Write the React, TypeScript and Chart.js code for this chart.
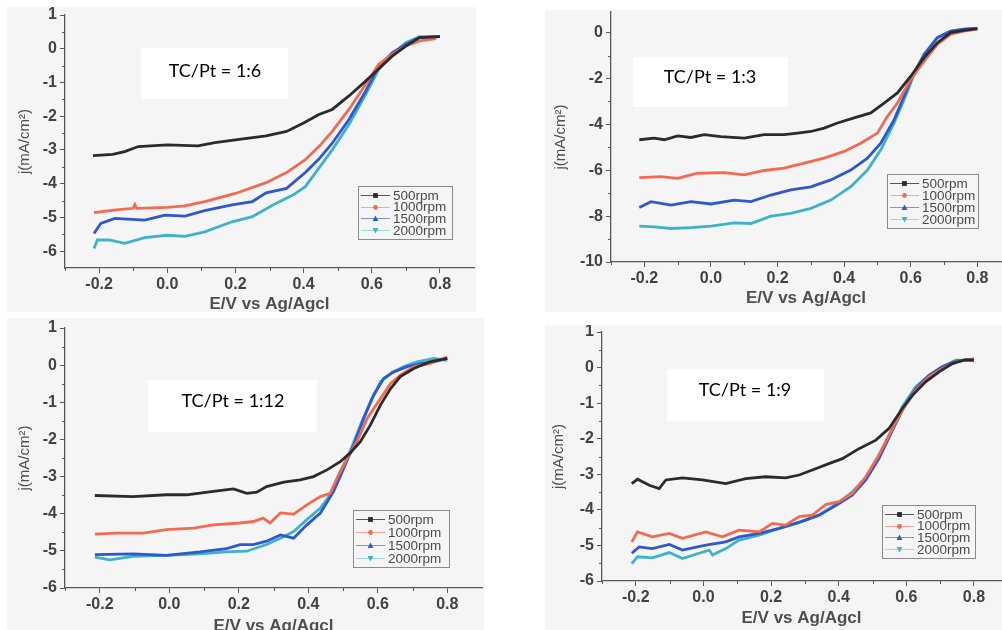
import React, { useEffect, useRef } from "react";
import { Chart, registerables } from "chart.js";

Chart.register(...registerables);

// ---------- data ----------
const rpmLabels = ["500rpm", "1000rpm", "1500rpm", "2000rpm"];
const seriesColors = ["#2b2b2b", "#f4694f", "#2f58cf", "#3db3c9"];
const xAxisTitle = "E/V vs Ag/Agcl";
const yAxisTitle = "j(mA/cm²)";
const panelNotes = ["TC/Pt = 1:6", "TC/Pt = 1:3", "TC/Pt = 1:12", "TC/Pt = 1:9"];

const xTicksMajor = [-0.2, 0, 0.2, 0.4, 0.6, 0.8];
const xTicksMinor = [-0.3, -0.1, 0.1, 0.3, 0.5, 0.7];
const yTicksA = [1, 0, -1, -2, -3, -4, -5, -6];
const yTicksAMinor = [0.5, -0.5, -1.5, -2.5, -3.5, -4.5, -5.5];
const yTicksB = [0, -2, -4, -6, -8, -10];
const yTicksBMinor = [-1, -3, -5, -7, -9];

// Panel 1: TC/Pt = 1:6
const p1x500 = [-0.218, -0.16, -0.125, -0.085, 0, 0.09, 0.14, 0.2, 0.29, 0.35, 0.4, 0.445, 0.484, 0.533, 0.582, 0.62, 0.66, 0.7, 0.74, 0.8];
const p1y500 = [-3.17, -3.13, -3.05, -2.9, -2.85, -2.88, -2.78, -2.7, -2.58, -2.45, -2.2, -1.95, -1.8, -1.4, -0.96, -0.6, -0.22, 0.08, 0.33, 0.36];
const p1x1000 = [-0.215, -0.15, -0.1, -0.095, -0.09, 0, 0.052, 0.11, 0.2, 0.29, 0.35, 0.405, 0.445, 0.484, 0.533, 0.582, 0.62, 0.66, 0.7, 0.74, 0.788];
const p1y1000 = [-4.86, -4.78, -4.73, -4.62, -4.73, -4.7, -4.66, -4.53, -4.29, -3.97, -3.67, -3.29, -2.9, -2.45, -1.8, -1.06, -0.47, -0.17, 0.08, 0.23, 0.3];
const p1x1500 = [-0.215, -0.195, -0.154, -0.066, -0.007, 0.052, 0.11, 0.19, 0.25, 0.29, 0.35, 0.405, 0.445, 0.484, 0.533, 0.582, 0.62, 0.66, 0.7, 0.74, 0.8];
const p1y1500 = [-5.48, -5.18, -5.03, -5.08, -4.93, -4.96, -4.8, -4.63, -4.53, -4.27, -4.14, -3.67, -3.27, -2.8, -2.1, -1.26, -0.52, -0.12, 0.13, 0.33, 0.36];
const p1x2000 = [-0.215, -0.205, -0.17, -0.125, -0.066, 0, 0.052, 0.11, 0.19, 0.25, 0.31, 0.37, 0.405, 0.445, 0.484, 0.533, 0.582, 0.62, 0.66, 0.7, 0.74, 0.8];
const p1y2000 = [-5.92, -5.67, -5.67, -5.77, -5.6, -5.53, -5.56, -5.43, -5.13, -4.98, -4.63, -4.33, -4.09, -3.54, -3.0, -2.25, -1.36, -0.62, -0.17, 0.18, 0.36, 0.36];

// Panel 2: TC/Pt = 1:3
const p2x500 = [-0.215, -0.17, -0.14, -0.1, -0.06, -0.02, 0.03, 0.1, 0.16, 0.22, 0.26, 0.3, 0.34, 0.38, 0.43, 0.48, 0.52, 0.56, 0.6, 0.64, 0.68, 0.72, 0.76, 0.8];
const p2y500 = [-4.67, -4.6, -4.67, -4.5, -4.57, -4.45, -4.53, -4.6, -4.45, -4.45, -4.38, -4.31, -4.16, -3.94, -3.72, -3.5, -3.07, -2.63, -1.9, -1.09, -0.44, 0, 0.1, 0.18];
const p2x1000 = [-0.215, -0.15, -0.1, -0.04, 0.04, 0.1, 0.16, 0.22, 0.28, 0.34, 0.4, 0.45, 0.5, 0.53, 0.56, 0.6, 0.64, 0.68, 0.72, 0.76, 0.8];
const p2y1000 = [-6.32, -6.28, -6.35, -6.13, -6.1, -6.2, -6.01, -5.91, -5.69, -5.47, -5.18, -4.82, -4.38, -3.65, -3.07, -2.04, -1.24, -0.51, -0.07, 0.07, 0.15];
const p2x1500 = [-0.215, -0.18, -0.12, -0.06, 0, 0.07, 0.12, 0.18, 0.24, 0.3, 0.36, 0.42, 0.47, 0.51, 0.55, 0.58, 0.61, 0.64, 0.68, 0.72, 0.76, 0.8];
const p2y1500 = [-7.62, -7.37, -7.52, -7.37, -7.47, -7.3, -7.37, -7.08, -6.86, -6.72, -6.42, -5.99, -5.47, -4.82, -3.8, -2.77, -1.75, -0.95, -0.22, 0.07, 0.15, 0.18];
const p2x2000 = [-0.215, -0.17, -0.12, -0.06, 0, 0.07, 0.12, 0.18, 0.24, 0.3, 0.36, 0.42, 0.47, 0.51, 0.55, 0.58, 0.61, 0.64, 0.68, 0.72, 0.76, 0.8];
const p2y2000 = [-8.44, -8.47, -8.54, -8.5, -8.44, -8.29, -8.32, -8.0, -7.88, -7.66, -7.3, -6.72, -5.99, -5.11, -3.94, -2.92, -1.82, -0.95, -0.22, 0.07, 0.15, 0.18];

// Panel 3: TC/Pt = 1:12
const p3x500 = [-0.214, -0.104, -0.008, 0.05, 0.127, 0.185, 0.223, 0.252, 0.28, 0.33, 0.377, 0.415, 0.454, 0.492, 0.52, 0.55, 0.579, 0.608, 0.637, 0.665, 0.704, 0.75, 0.8];
const p3y500 = [-3.51, -3.54, -3.49, -3.49, -3.4, -3.33, -3.45, -3.42, -3.27, -3.15, -3.09, -3.0, -2.82, -2.6, -2.37, -2.06, -1.61, -1.07, -0.63, -0.31, -0.09, 0.09, 0.18];
const p3x1000 = [-0.214, -0.152, -0.075, -0.008, 0.07, 0.127, 0.204, 0.242, 0.27, 0.29, 0.32, 0.358, 0.396, 0.435, 0.463, 0.483, 0.51, 0.54, 0.57, 0.608, 0.637, 0.665, 0.704, 0.75, 0.8];
const p3y1000 = [-4.55, -4.52, -4.52, -4.43, -4.39, -4.3, -4.25, -4.21, -4.12, -4.25, -3.98, -4.01, -3.76, -3.54, -3.45, -3.04, -2.55, -2.06, -1.43, -0.9, -0.49, -0.27, -0.04, 0.04, 0.22];
const p3x1500 = [-0.214, -0.104, -0.008, 0.088, 0.165, 0.204, 0.242, 0.28, 0.32, 0.358, 0.396, 0.435, 0.473, 0.502, 0.531, 0.56, 0.588, 0.617, 0.646, 0.685, 0.723, 0.762, 0.8];
const p3y1500 = [-5.1, -5.08, -5.12, -5.03, -4.94, -4.83, -4.83, -4.74, -4.57, -4.66, -4.3, -3.98, -3.4, -2.78, -2.15, -1.43, -0.81, -0.36, -0.18, -0.04, 0.04, 0.09, 0.18];
const p3x2000 = [-0.214, -0.171, -0.104, -0.008, 0.088, 0.165, 0.223, 0.28, 0.32, 0.358, 0.396, 0.435, 0.463, 0.492, 0.52, 0.55, 0.579, 0.608, 0.637, 0.675, 0.713, 0.762, 0.8];
const p3y2000 = [-5.17, -5.24, -5.15, -5.12, -5.08, -5.03, -5.01, -4.83, -4.66, -4.48, -4.16, -3.85, -3.49, -2.87, -2.33, -1.61, -0.98, -0.45, -0.22, -0.04, 0.09, 0.18, 0.13];

// Panel 4: TC/Pt = 1:9
const p4x500 = [-0.212, -0.195, -0.16, -0.131, -0.111, -0.062, -0.003, 0.066, 0.125, 0.184, 0.243, 0.283, 0.322, 0.371, 0.411, 0.46, 0.51, 0.549, 0.588, 0.618, 0.657, 0.697, 0.736, 0.775, 0.8];
const p4y500 = [-3.26, -3.14, -3.31, -3.4, -3.16, -3.1, -3.16, -3.26, -3.12, -3.07, -3.1, -3.02, -2.88, -2.7, -2.56, -2.28, -2.04, -1.71, -1.15, -0.78, -0.4, -0.12, 0.11, 0.22, 0.21];
const p4x1000 = [-0.212, -0.195, -0.151, -0.101, -0.062, 0.007, 0.056, 0.105, 0.165, 0.204, 0.243, 0.283, 0.322, 0.362, 0.401, 0.44, 0.48, 0.519, 0.559, 0.588, 0.628, 0.667, 0.706, 0.746, 0.8];
const p4y1000 = [-4.9, -4.62, -4.76, -4.66, -4.8, -4.62, -4.76, -4.57, -4.62, -4.38, -4.43, -4.19, -4.15, -3.85, -3.77, -3.54, -3.07, -2.46, -1.71, -1.2, -0.64, -0.26, -0.03, 0.16, 0.25];
const p4x1500 = [-0.212, -0.19, -0.151, -0.101, -0.062, 0.007, 0.066, 0.105, 0.165, 0.224, 0.283, 0.342, 0.401, 0.44, 0.48, 0.519, 0.559, 0.588, 0.628, 0.667, 0.706, 0.746, 0.8];
const p4y1500 = [-5.22, -5.04, -5.09, -4.97, -5.13, -4.99, -4.9, -4.76, -4.66, -4.52, -4.35, -4.15, -3.82, -3.59, -3.16, -2.56, -1.76, -1.2, -0.59, -0.22, 0.02, 0.18, 0.22];
const p4x2000 = [-0.212, -0.195, -0.151, -0.101, -0.062, -0.013, 0.017, 0.027, 0.066, 0.105, 0.165, 0.224, 0.283, 0.342, 0.401, 0.44, 0.48, 0.519, 0.559, 0.588, 0.628, 0.667, 0.706, 0.746, 0.8];
const p4y2000 = [-5.51, -5.32, -5.35, -5.2, -5.37, -5.22, -5.13, -5.27, -5.09, -4.85, -4.71, -4.52, -4.35, -4.15, -3.79, -3.49, -3.12, -2.46, -1.71, -1.1, -0.54, -0.22, 0.02, 0.21, 0.21];

// ---------- layout / style ----------
type Box = [number, number, number, number];
type PanelCfg = {
  left: number; top: number; width: number; height: number;
  plotLeft: number; plotRight: number; plotTop: number; plotBottom: number;
  xMin: number; xMax: number; yMin: number; yMax: number;
  yMajor: number[]; yMinor: number[];
  yTitleX: number; xTitleY: number;
  note: string; noteBox: Box; noteCenter: [number, number];
  legendBox: Box;
  xs: number[][]; ys: number[][];
};

const BG = "#f5f5f6";
const AXIS = "#5a5a5a";
const LABEL = "#424242";
const SANS = "'Liberation Sans', Arial, sans-serif";

const panels: PanelCfg[] = [
  {
    left: 7, top: 7, width: 469, height: 305,
    plotLeft: 65, plotRight: 474, plotTop: 15, plotBottom: 268,
    xMin: -0.3, xMax: 0.9, yMin: -6.5, yMax: 1,
    yMajor: yTicksA, yMinor: yTicksAMinor,
    yTitleX: 25, xTitleY: 304,
    note: panelNotes[0], noteBox: [141, 48, 147, 51], noteCenter: [215, 71],
    legendBox: [358, 186, 94, 53],
    xs: [p1x500, p1x1000, p1x1500, p1x2000], ys: [p1y500, p1y1000, p1y1500, p1y2000],
  },
  {
    left: 545, top: 10, width: 457, height: 302,
    plotLeft: 611, plotRight: 1001, plotTop: 12, plotBottom: 262,
    xMin: -0.3, xMax: 0.871, yMin: -10, yMax: 0.9,
    yMajor: yTicksB, yMinor: yTicksBMinor,
    yTitleX: 561, xTitleY: 298,
    note: panelNotes[1], noteBox: [633, 57, 155, 50], noteCenter: [710, 77],
    legendBox: [887, 174, 91, 54],
    xs: [p2x500, p2x1000, p2x1500, p2x2000], ys: [p2y500, p2y1000, p2y1500, p2y2000],
  },
  {
    left: 7, top: 318, width: 477, height: 322,
    plotLeft: 65, plotRight: 482, plotTop: 328, plotBottom: 588,
    xMin: -0.3, xMax: 0.9, yMin: -6, yMax: 1,
    yMajor: yTicksA, yMinor: yTicksAMinor,
    yTitleX: 25, xTitleY: 626,
    note: panelNotes[2], noteBox: [148, 380, 169, 52], noteCenter: [233, 401],
    legendBox: [353, 510, 96, 57],
    xs: [p3x500, p3x1000, p3x1500, p3x2000], ys: [p3y500, p3y1000, p3y1500, p3y2000],
  },
  {
    left: 545, top: 325, width: 457, height: 305,
    plotLeft: 602, plotRight: 1001, plotTop: 332, plotBottom: 581,
    xMin: -0.3, xMax: 0.88, yMin: -6, yMax: 1,
    yMajor: yTicksA, yMinor: yTicksAMinor,
    yTitleX: 559, xTitleY: 618,
    note: panelNotes[3], noteBox: [667, 369, 157, 52], noteCenter: [745, 390],
    legendBox: [882, 505, 93, 53],
    xs: [p4x500, p4x1000, p4x1500, p4x2000], ys: [p4y500, p4y1000, p4y1500, p4y2000],
  },
];

function drawMarker(ctx: CanvasRenderingContext2D, kind: number, x: number, y: number, color: string) {
  ctx.save();
  ctx.fillStyle = color;
  ctx.beginPath();
  const s = 2.4;
  if (kind === 0) {
    ctx.rect(x - s, y - s, 2 * s, 2 * s);
  } else if (kind === 1) {
    ctx.arc(x, y, s, 0, Math.PI * 2);
  } else if (kind === 2) {
    ctx.moveTo(x, y - s - 0.5);
    ctx.lineTo(x + s + 0.5, y + s);
    ctx.lineTo(x - s - 0.5, y + s);
    ctx.closePath();
  } else {
    ctx.moveTo(x, y + s + 0.5);
    ctx.lineTo(x + s + 0.5, y - s);
    ctx.lineTo(x - s - 0.5, y - s);
    ctx.closePath();
  }
  ctx.fill();
  ctx.restore();
}

const legendLineColors = ["#555555", "#f7a898", "#7a95e0", "#9fd8e4"];

function Panel({ cfg }: { cfg: PanelCfg }) {
  const ref = useRef<HTMLCanvasElement | null>(null);
  useEffect(() => {
    const canvas = ref.current;
    if (!canvas) return;
    const xTitleSize = 17;
    const yTitleSize = 15;
    const xTitlePadBottom = cfg.height - (cfg.xTitleY - cfg.top) - xTitleSize / 2;
    const yTitlePadTop = cfg.yTitleX - cfg.left - yTitleSize / 2;

    const bgPlugin = {
      id: "panelBg",
      beforeDraw(chart: any) {
        const c = chart.ctx;
        c.save();
        c.fillStyle = BG;
        c.fillRect(0, 0, chart.width, chart.height);
        c.restore();
      },
    };

    const overlayPlugin = {
      id: "panelOverlay",
      afterDraw(chart: any) {
        const c: CanvasRenderingContext2D = chart.ctx;
        const area = chart.chartArea;
        const xs = chart.scales.x;
        const ys = chart.scales.y;
        c.save();
        // minor ticks
        c.strokeStyle = AXIS;
        c.lineWidth = 1;
        c.beginPath();
        for (const v of cfg.yMinor) {
          const py = Math.round(ys.getPixelForValue(v)) + 0.5;
          c.moveTo(area.left - 3, py);
          c.lineTo(area.left, py);
        }
        for (const v of xTicksMinor) {
          const px = Math.round(xs.getPixelForValue(v)) + 0.5;
          c.moveTo(px, area.bottom);
          c.lineTo(px, area.bottom + 3);
        }
        c.stroke();

        // note box
        const [nx, ny, nw, nh] = cfg.noteBox;
        c.fillStyle = "#ffffff";
        c.fillRect(nx - cfg.left, ny - cfg.top, nw, nh);
        c.fillStyle = "#000000";
        c.font = "18px Lato, 'Open Sans', sans-serif";
        c.textAlign = "center";
        c.textBaseline = "middle";
        c.fillText(cfg.note, cfg.noteCenter[0] - cfg.left, cfg.noteCenter[1] - cfg.top);

        // legend
        const [lx0, ly0, lw, lh] = cfg.legendBox;
        const lx = lx0 - cfg.left;
        const ly = ly0 - cfg.top;
        c.strokeStyle = "#8a8a8a";
        c.lineWidth = 1;
        c.strokeRect(Math.round(lx) + 0.5, Math.round(ly) + 0.5, lw, lh);
        const rowStep = (lh - 18) / 3;
        c.font = "13.5px " + SANS;
        c.textAlign = "left";
        c.textBaseline = "middle";
        chart.data.datasets.forEach((ds: any, i: number) => {
          const ry = ly + 9 + i * rowStep;
          c.strokeStyle = legendLineColors[i];
          c.beginPath();
          c.moveTo(lx + 3, Math.round(ry) + 0.5);
          c.lineTo(lx + 32, Math.round(ry) + 0.5);
          c.stroke();
          drawMarker(c, i, lx + 17.5, Math.round(ry) + 0.5, ds.borderColor);
          c.fillStyle = "#4a4a4a";
          c.fillText(ds.label, lx + 35, ry + 1);
        });
        c.restore();
      },
    };

    const chart = new Chart(canvas, {
      type: "line",
      data: {
        datasets: rpmLabels.map((label, i) => ({
          label,
          data: cfg.xs[i].map((x, k) => ({ x, y: cfg.ys[i][k] })),
          borderColor: seriesColors[i],
          backgroundColor: seriesColors[i],
          borderWidth: 2.8,
          pointRadius: 0,
          tension: 0,
          fill: false,
        })),
      },
      options: {
        responsive: false,
        animation: false,
        events: [],
        layout: {
          padding: {
            left: 0,
            top: cfg.plotTop - cfg.top,
            right: cfg.left + cfg.width - cfg.plotRight,
            bottom: 0,
          },
        },
        plugins: {
          legend: { display: false },
          tooltip: { enabled: false },
        },
        scales: {
          x: {
            type: "linear",
            position: "bottom",
            min: cfg.xMin,
            max: cfg.xMax,
            afterBuildTicks: (s: any) => {
              s.ticks = xTicksMajor.map((v) => ({ value: v }));
            },
            afterFit: (s: any) => {
              s.height = cfg.top + cfg.height - cfg.plotBottom;
              s.paddingLeft = 0; s.paddingRight = 0; s.paddingTop = 0; s.paddingBottom = 0;
            },
            grid: { drawOnChartArea: false, drawTicks: true, tickLength: 5, color: AXIS, lineWidth: 1 },
            border: { display: true, color: AXIS, width: 1.3 },
            ticks: {
              autoSkip: false,
              maxRotation: 0,
              padding: 2,
              color: LABEL,
              font: { family: SANS, size: 16, weight: "bold" },
              callback: (v: any) => Number(v).toFixed(1),
            },
            title: {
              display: true,
              text: xAxisTitle,
              color: "#4f4f4f",
              font: { family: SANS, size: xTitleSize, weight: "bold", lineHeight: 1 },
              padding: { top: 0, bottom: xTitlePadBottom },
            },
          },
          y: {
            type: "linear",
            position: "left",
            min: cfg.yMin,
            max: cfg.yMax,
            afterBuildTicks: (s: any) => {
              s.ticks = cfg.yMajor.map((v) => ({ value: v }));
            },
            afterFit: (s: any) => {
              s.width = cfg.plotLeft - cfg.left;
              s.paddingLeft = 0; s.paddingRight = 0; s.paddingTop = 0; s.paddingBottom = 0;
            },
            grid: { drawOnChartArea: false, drawTicks: true, tickLength: 5, color: AXIS, lineWidth: 1 },
            border: { display: true, color: AXIS, width: 1.3 },
            ticks: {
              autoSkip: false,
              padding: 3,
              color: LABEL,
              font: { family: SANS, size: 16, weight: "bold" },
              callback: (v: any) => String(v),
            },
            title: {
              display: true,
              text: yAxisTitle,
              color: "#4f4f4f",
              font: { family: SANS, size: yTitleSize, lineHeight: 1 },
              padding: { top: yTitlePadTop, bottom: 0 },
            },
          },
        },
      },
      plugins: [bgPlugin, overlayPlugin],
    } as any);
    return () => chart.destroy();
  }, [cfg]);

  return (
    <canvas
      ref={ref}
      width={cfg.width}
      height={cfg.height}
      style={{ position: "absolute", left: cfg.left, top: cfg.top, width: cfg.width, height: cfg.height }}
    />
  );
}

export default function App() {
  return (
    <div
      style={{
        position: "fixed",
        left: 0,
        top: 0,
        width: 1002,
        height: 630,
        overflow: "hidden",
        background: "#ffffff",
      }}
    >
      {panels.map((p, i) => (
        <Panel key={i} cfg={p} />
      ))}
    </div>
  );
}
